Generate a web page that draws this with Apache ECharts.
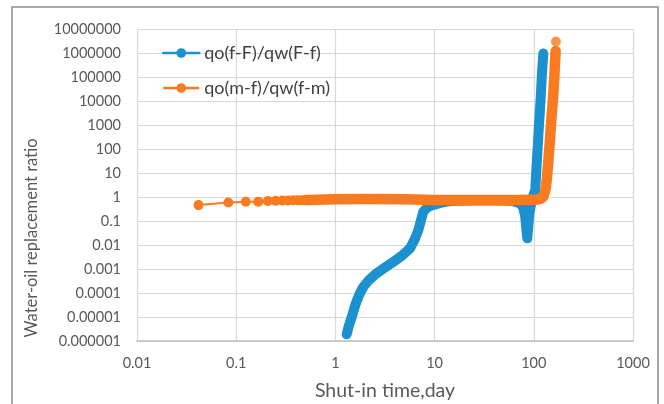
<!DOCTYPE html>
<html>
<head>
<meta charset="utf-8">
<script src="https://cdn.jsdelivr.net/npm/echarts@6/dist/echarts.min.js"></script>
<style>
  html, body { margin: 0; padding: 0; background: #fff; }
  #chart { width: 664px; height: 404px; }
</style>
</head>
<body>
<div id="chart"></div>
<script>
// tick labels (log axes, one per decade)
const xTickLabels = ['0.01', '0.1', '1', '10', '100', '1000'];
const yTickLabels = ['0.000001', '0.00001', '0.0001', '0.001', '0.01', '0.1', '1',
  '10', '100', '1000', '10000', '100000', '1000000', '10000000'];

const seriesNames = ['qo(f-F)/qw(F-f)', 'qo(m-f)/qw(f-m)'];

// qo(f-F)/qw(F-f) : [shut-in time (day), ratio]
const blueData = [
  [1.3, 1.9e-6], [1.36, 4e-6], [1.46, 1.0e-5], [1.6, 3.5e-5], [1.75, 9e-5],
  [1.91, 1.8e-4], [2.2, 3.6e-4], [2.6, 6.6e-4], [3.2, 1.2e-3], [3.84, 2.0e-3],
  [4.7, 3.6e-3], [5.65, 7.3e-3], [6.3, 0.017], [6.86, 0.042], [7.3, 0.11],
  [7.7, 0.245], [8.5, 0.38], [9.7, 0.47], [11.5, 0.57], [13.2, 0.64],
  [16, 0.70], [25, 0.72], [40, 0.72], [60, 0.70], [72, 0.55], [78, 0.38],
  [82, 0.15], [84, 0.05], [86, 0.019], [88, 0.06], [90, 0.2], [96, 0.8],
  [103.5, 2], [107, 25], [112, 620], [117.5, 15000], [121, 1.5e5], [124.7, 9.5e5]
];

// qo(m-f)/qw(f-m) : first hourly readings (visible as separate markers)
const orangeEarly = [
  [0.0417, 0.46], [0.0833, 0.59], [0.125, 0.63], [0.1667, 0.64], [0.2083, 0.68],
  [0.25, 0.70], [0.2917, 0.71], [0.3333, 0.72], [0.375, 0.73], [0.4167, 0.74],
  [0.4583, 0.74], [0.5, 0.75]
];
// qo(m-f)/qw(f-m) : dense part of the record
const orangeDense = [
  [0.5, 0.75], [1, 0.8], [2, 0.82], [5, 0.8], [10, 0.75], [30, 0.75],
  [60, 0.75], [100, 0.76], [108, 0.78], [118, 0.85], [125, 1.05], [131, 2],
  [135, 5], [140, 30], [145, 200], [150, 1500], [156, 12000], [161, 1e5],
  [164, 5e5], [166, 1.2e6]
];
// last reading
const orangeLast = [[167, 3e6]];

const BLUE = '#1c91d0';
const ORANGE = '#fa7a1f';
const FONT = 'Lato';

const chart = echarts.init(document.getElementById('chart'));

const decade = (v, offset) => Math.round(Math.log10(v)) + offset;

chart.setOption({
  animation: false,
  backgroundColor: '#fff',
  textStyle: { fontFamily: FONT },
  grid: { left: 137, right: 31, top: 29, bottom: 63, outerBoundsMode: 'none' },
  graphic: [
    {
      type: 'rect',
      shape: { x: 12, y: 7, width: 646, height: 440 },
      style: { fill: 'none', stroke: '#8c8c8c', lineWidth: 1.5 },
      silent: true
    },
    {
      type: 'text',
      x: 32, y: 238,
      rotation: Math.PI / 2,
      style: {
        text: 'Water-oil replacement ratio',
        fontFamily: FONT, fontSize: 16.5, fill: '#595959',
        align: 'center', verticalAlign: 'middle'
      }
    }
  ],
  legend: {
    orient: 'vertical',
    left: 157,
    top: 39,
    itemWidth: 36,
    itemHeight: 12,
    itemGap: 17,
    data: seriesNames,
    lineStyle: { width: 2.5 },
    textStyle: { fontFamily: FONT, fontSize: 18, color: '#404040' }
  },
  xAxis: {
    type: 'log',
    logBase: 10,
    min: 0.01,
    max: 1000,
    interval: 1,
    name: 'Shut-in time,day',
    nameLocation: 'middle',
    nameGap: 40,
    nameTextStyle: { fontFamily: FONT, fontSize: 19.5, color: '#595959' },
    axisLine: { show: true, lineStyle: { color: '#bfbfbf', width: 1.5 } },
    axisTick: { show: false },
    axisLabel: {
      margin: 15,
      fontSize: 14.5,
      color: '#595959',
      formatter: v => xTickLabels[decade(v, 2)]
    },
    splitLine: { show: true, lineStyle: { color: '#d9d9d9', width: 1.2 } }
  },
  yAxis: {
    type: 'log',
    logBase: 10,
    min: 0.000001,
    max: 10000000,
    interval: 1,
    axisLine: { show: false },
    axisTick: { show: false },
    axisLabel: {
      margin: 16,
      fontSize: 14.5,
      color: '#595959',
      formatter: v => yTickLabels[decade(v, 6)]
    },
    splitLine: { show: true, lineStyle: { color: '#d9d9d9', width: 1.2 } }
  },
  series: [
    {
      name: seriesNames[0],
      type: 'line',
      data: blueData,
      symbol: 'circle',
      showSymbol: false,
      color: BLUE,
      lineStyle: { width: 10, cap: 'round', join: 'round' }
    },
    {
      name: seriesNames[1],
      type: 'line',
      data: orangeEarly,
      symbol: 'circle',
      symbolSize: 10,
      color: ORANGE,
      lineStyle: { width: 2 }
    },
    {
      name: seriesNames[1],
      type: 'line',
      data: orangeDense,
      symbol: 'circle',
      showSymbol: false,
      color: ORANGE,
      lineStyle: { width: 10.5, cap: 'round', join: 'round' }
    },
    {
      name: seriesNames[1],
      type: 'scatter',
      data: orangeLast,
      symbol: 'circle',
      symbolSize: 10,
      color: ORANGE
    }
  ]
});

window.addEventListener('resize', () => chart.resize());
</script>
</body>
</html>
